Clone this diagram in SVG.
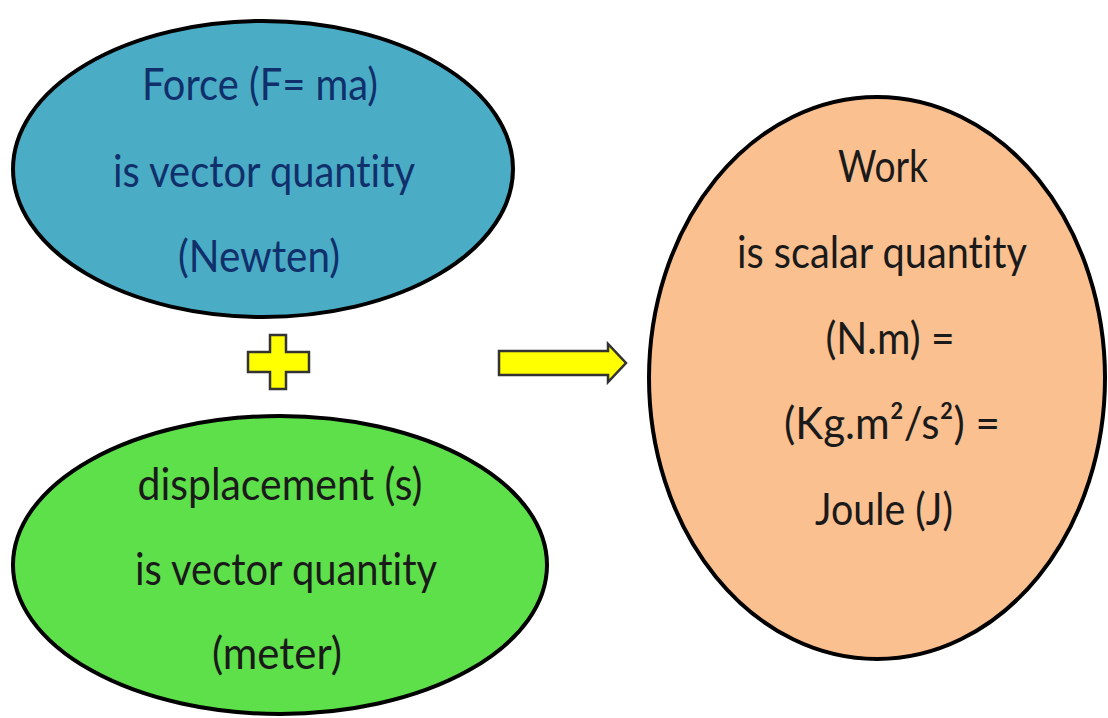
<svg xmlns="http://www.w3.org/2000/svg" width="1108" height="718" viewBox="0 0 1108 718">
<style>
.node{stroke:#000;stroke-width:4}
.t{font-family:Lato,"Open Sans","Liberation Sans",sans-serif;font-size:44px;text-anchor:middle;font-variant-ligatures:none}
.sym{fill:#ffff00;stroke:#333;stroke-width:2.5;stroke-linejoin:miter}
</style>
<rect width="1108" height="718" fill="#fff"/>
<g id="force">
<ellipse class="node" cx="263" cy="169" rx="250" ry="148" fill="#4bacc6"/>
<text class="t" fill="#10306b" lengthAdjust="spacingAndGlyphs"><tspan x="260" y="100" textLength="236" lengthAdjust="spacingAndGlyphs">Force (F= ma)</tspan></text>
<text class="t" fill="#10306b"><tspan x="264" y="187" textLength="302" lengthAdjust="spacingAndGlyphs">is vector quantity</tspan></text>
<text class="t" fill="#10306b"><tspan x="259" y="272" textLength="162" lengthAdjust="spacingAndGlyphs">(Newten)</tspan></text>
</g>
<g id="displacement">
<ellipse class="node" cx="280" cy="565" rx="267" ry="149" fill="#5ee04a"/>
<text class="t" fill="#1a1a1a"><tspan x="280" y="500" textLength="285" lengthAdjust="spacingAndGlyphs">displacement (s)</tspan></text>
<text class="t" fill="#1a1a1a"><tspan x="286" y="585" textLength="302" lengthAdjust="spacingAndGlyphs">is vector quantity</tspan></text>
<text class="t" fill="#1a1a1a"><tspan x="277" y="669" textLength="130" lengthAdjust="spacingAndGlyphs">(meter)</tspan></text>
</g>
<g id="work">
<ellipse class="node" cx="877" cy="378" rx="228" ry="281" fill="#fac090"/>
<text class="t" fill="#1a1a1a"><tspan x="883" y="182" textLength="90" lengthAdjust="spacingAndGlyphs">Work</tspan></text>
<text class="t" fill="#1a1a1a"><tspan x="882" y="268" textLength="290" lengthAdjust="spacingAndGlyphs">is scalar quantity</tspan></text>
<text class="t" fill="#1a1a1a"><tspan x="890" y="354" textLength="129" lengthAdjust="spacingAndGlyphs">(N.m) =</tspan></text>
<text class="t" fill="#1a1a1a"><tspan x="892" y="439" textLength="216" lengthAdjust="spacingAndGlyphs">(Kg.m²/s²) =</tspan></text>
<text class="t" fill="#1a1a1a"><tspan x="884" y="525" textLength="138" lengthAdjust="spacingAndGlyphs">Joule (J)</tspan></text>
</g>
<g id="connectors">
<path id="plus" class="sym" d="M270,335 H286 V352 H309 V372 H286 V389 H270 V372 H248 V352 H270 Z"/>
<path id="arrow" class="sym" d="M499,351 H608 V344 L626,363 L608,382 V375 H499 Z"/>
</g>
</svg>
